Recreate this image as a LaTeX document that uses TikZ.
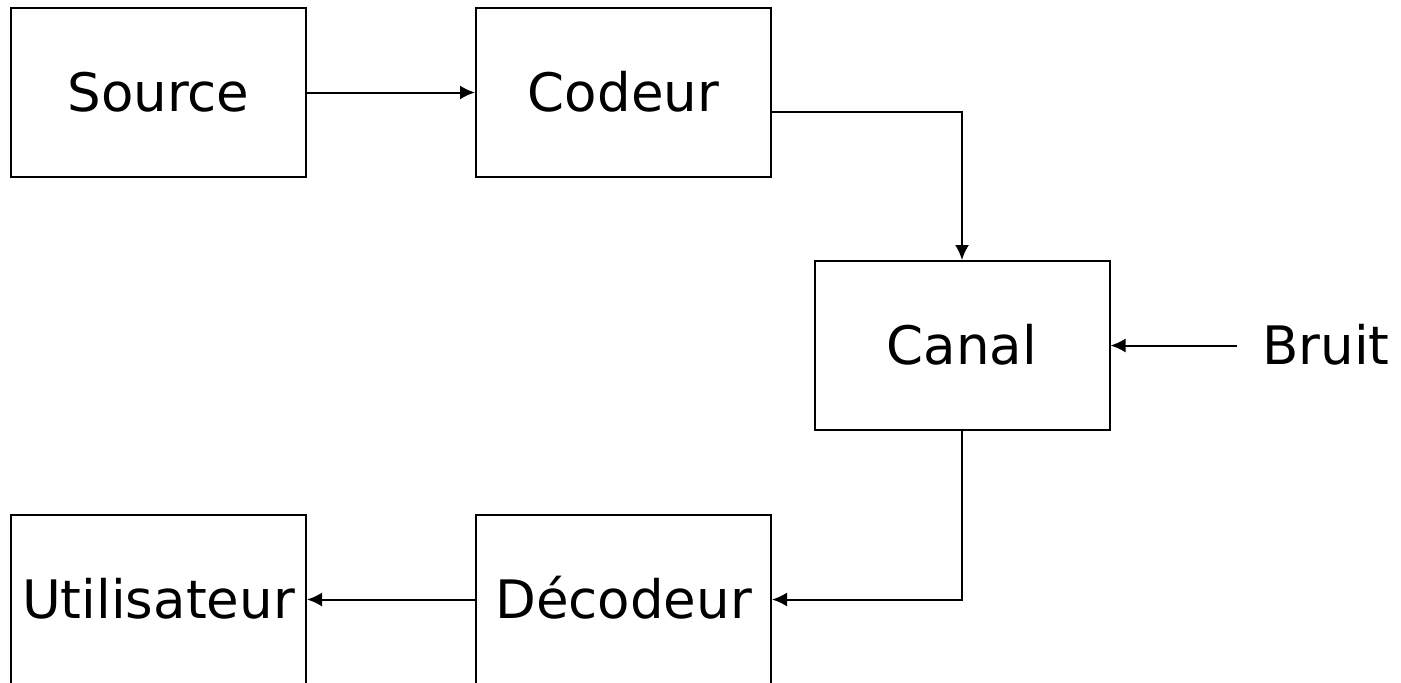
\documentclass[tikz,border=0pt]{standalone}
\usepackage{fontspec}
\setmainfont{DejaVu Sans}
\usetikzlibrary{arrows.meta}
\tikzset{
  blockbox/.style={draw, line width=1pt, rectangle, minimum width=147.5pt, minimum height=84.5pt,
    inner sep=0pt, font=\fontsize{26.5pt}{30pt}\selectfont, text height=19.3pt, text depth=0pt},
  plainlabel/.style={inner sep=0pt, inner xsep=12.5pt, font=\fontsize{26.5pt}{30pt}\selectfont, text height=19.3pt, text depth=0pt},
  conn/.style={line width=1pt, -{Latex[length=7.5pt,width=7pt]}}
}
\begin{document}
\begin{tikzpicture}[x=0.5pt,y=-0.5pt]
\useasboundingbox (0,0) rectangle (1401,682);
\clip (0,0) rectangle (1401,682);
\node[blockbox] (source) at (158.5,92.5) {Source};
\node[blockbox] (codeur) at (623.5,92.5) {Codeur};
\node[blockbox] (canal) at (962,345.5) {Canal};
\node[blockbox] (util) at (158.5,599.5) {Utilisateur};
\node[blockbox] (decod) at (623.5,599.5) {Décodeur};
\node[plainlabel, anchor=west] (bruit) at (1237,345.5) {Bruit};
\draw[conn] (source) -- (codeur);
\draw[conn] (codeur.east) ++(0,19.5) -| (canal.north);
\draw[conn] (bruit.west) -- (canal.east);
\draw[conn] (canal.south) |- (decod.east);
\draw[conn] (decod.west) -- (util.east);
\end{tikzpicture}
\end{document}
